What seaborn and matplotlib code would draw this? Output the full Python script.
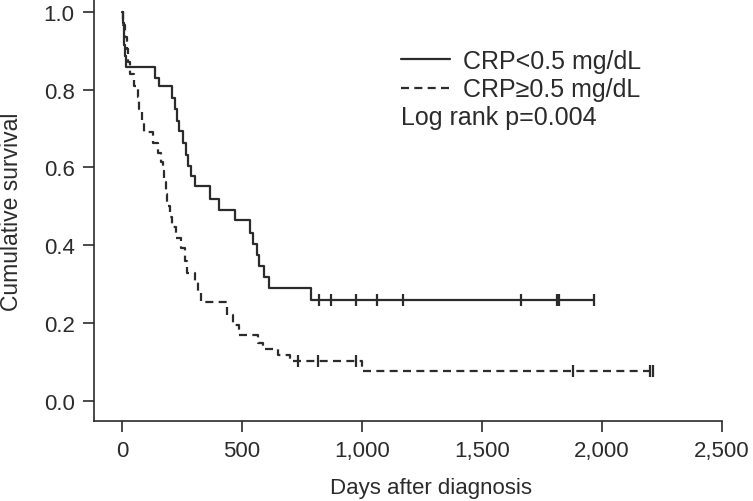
import matplotlib
matplotlib.use("Agg")
import matplotlib.pyplot as plt
import seaborn as sns
import pandas as pd
from matplotlib.ticker import FuncFormatter

# Kaplan-Meier steps
low_days = [0, 3, 6, 10, 14, 18, 137, 152, 207, 221, 230, 239, 255, 265, 276,
            286, 304, 367, 404, 471, 532, 547, 561, 571, 592, 614, 786, 1967]
low_surv = [1.0, 0.971, 0.943, 0.914, 0.886, 0.857, 0.829, 0.808, 0.779, 0.749,
            0.719, 0.693, 0.663, 0.633, 0.603, 0.578, 0.552, 0.518, 0.490, 0.465,
            0.432, 0.403, 0.374, 0.347, 0.319, 0.290, 0.259, 0.259]
low_cens_days = [822, 871, 975, 1064, 1169, 1661, 1811, 1821, 1967]
low_cens_surv = [0.259] * 9

high_days = [0, 3, 12, 20, 26, 33, 50, 65, 71, 82, 93, 129, 150, 163, 169, 176,
             183, 189, 198, 208, 225, 245, 263, 272, 305, 315, 330, 437, 464,
             488, 568, 588, 650, 700, 999, 2225]
high_surv = [1.0, 0.967, 0.936, 0.905, 0.872, 0.841, 0.810, 0.780, 0.750, 0.721,
             0.690, 0.662, 0.638, 0.613, 0.590, 0.562, 0.531, 0.500, 0.472, 0.446,
             0.420, 0.392, 0.361, 0.330, 0.305, 0.279, 0.254, 0.221, 0.195, 0.170,
             0.150, 0.133, 0.118, 0.103, 0.078, 0.078]
high_cens_days = [733, 818, 973, 1880, 2200, 2212]
high_cens_surv = [0.103, 0.103, 0.103, 0.078, 0.078, 0.078]

labels = ["CRP<0.5 mg/dL", "CRP\u22650.5 mg/dL"]
pvalue_text = "Log rank p=0.004"

sns.set_style("ticks")
plt.rcParams["font.family"] = ["Liberation Sans", "DejaVu Sans"]
ink = "#2b2b2b"

fig = plt.figure(figsize=(7.53, 5.02), dpi=100)
ax = fig.add_axes([94 / 753, 1 - 422 / 502, 628 / 753, 421 / 502])

low = pd.DataFrame({"day": low_days, "surv": low_surv})
high = pd.DataFrame({"day": high_days, "surv": high_surv})

sns.lineplot(data=low, x="day", y="surv", ax=ax, drawstyle="steps-post",
             color=ink, lw=1.6, estimator=None, label=labels[0])
sns.lineplot(data=high, x="day", y="surv", ax=ax, drawstyle="steps-post",
             color=ink, lw=1.6, estimator=None, label=labels[1])
ax.lines[1].set_dashes((3.6, 2.4))

sns.scatterplot(x=low_cens_days, y=low_cens_surv, ax=ax, marker="|", s=70,
                color=ink, linewidth=1.6)
sns.scatterplot(x=high_cens_days, y=high_cens_surv, ax=ax, marker="|", s=70,
                color=ink, linewidth=1.6)

ax.set_xlim(-117, 2500)
ax.set_ylim(-0.051, 1.03)
ax.set_xticks([0, 500, 1000, 1500, 2000, 2500])
ax.set_yticks([0.0, 0.2, 0.4, 0.6, 0.8, 1.0])
ax.xaxis.set_major_formatter(FuncFormatter(lambda v, p: f"{int(v):,}"))
ax.yaxis.set_major_formatter(FuncFormatter(lambda v, p: f"{v:.1f}"))
ax.tick_params(axis="both", direction="out", length=8, width=1.2,
               colors=ink, labelsize=16, pad=6)
for s in ["left", "bottom"]:
    ax.spines[s].set_color(ink)
    ax.spines[s].set_linewidth(1.2)
sns.despine(ax=ax)

ax.set_xlabel("Days after diagnosis", fontsize=16, color=ink)
ax.xaxis.set_label_coords(0.537, -0.133)
ax.set_ylabel("Cumulative survival", fontsize=16.5, color=ink)
ax.yaxis.set_label_coords(-0.113, 0.5)

leg = ax.legend(loc="upper left", bbox_to_anchor=(0.489, 0.884), frameon=False,
                fontsize=18, handlelength=1.96, handletextpad=0.52,
                labelspacing=0.18, borderaxespad=0, borderpad=0)
for t in leg.get_texts():
    t.set_color(ink)
ax.text(0.489, 0.723, pvalue_text, transform=ax.transAxes, fontsize=18,
        color=ink, ha="left", va="center")

fig.savefig("out.png", dpi=100)
